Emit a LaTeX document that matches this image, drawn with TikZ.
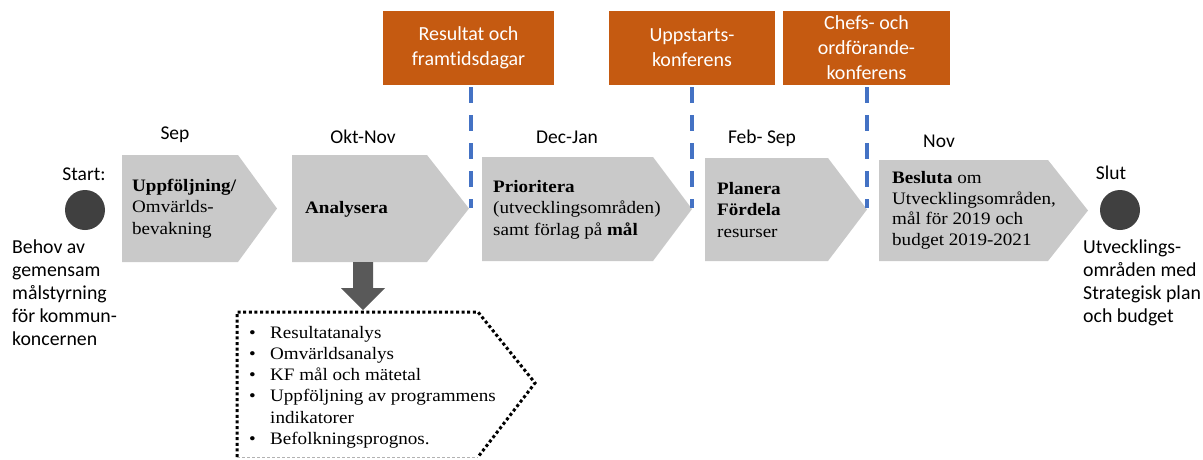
\documentclass[tikz,border=0pt]{standalone}
\usepackage{fontspec}
\newfontfamily\calib{Carlito}[Ligatures=NoCommon]
\newfontfamily\bookf{Liberation Serif}[FakeStretch=1.09]
\definecolor{orangeC}{HTML}{C55A11}
\definecolor{blueC}{HTML}{4472C4}
\definecolor{greyC}{HTML}{C9C9C9}
\definecolor{darkC}{HTML}{404040}
\definecolor{arrowC}{HTML}{595959}
\tikzset{
  evbox/.style={fill=orangeC, text=white, font=\calib\fontsize{20}{25}\selectfont, align=center, inner sep=0pt, minimum height=74pt},
  vline/.style={draw=blueC, line width=3.5pt, dash pattern=on 16pt off 12pt},
  stepfill/.style={fill=greyC},
  stxt/.style={font=\bookf\fontsize{17.5}{21.5}\selectfont, align=left, inner sep=0pt, anchor=west},
  lbl/.style={font=\calib\fontsize{19.5}{23}\selectfont, inner sep=0pt},
  sidetxt/.style={font=\calib\fontsize{19.8}{23}\selectfont, align=left, inner sep=0pt, anchor=west},
  dot/.style={circle, fill=darkC, minimum size=40pt, inner sep=0pt},
  dotbox/.style={draw=black, line width=3pt, dash pattern=on 3pt off 2.6pt},
}
\begin{document}
\begin{tikzpicture}[x=1pt,y=-1pt]
\useasboundingbox (0,0) rectangle (1203,459);

% event boxes
\node[evbox, minimum width=171pt] (e1) at (468.5,48) {Resultat och\\framtidsdagar};
\node[evbox, minimum width=166pt] (e2) at (692,48) {Uppstarts-\\konferens};
\node[evbox, minimum width=167pt] (e3) at (866.5,48) {Chefs- och\\ordförande-\\konferens};

% step shapes
\fill[stepfill] (122,155) -- (238,155) -- (277,208.5) -- (238,262) -- (122,262) -- cycle;
\fill[stepfill] (292,155) -- (427,155) -- (469,208.5) -- (427,262) -- (292,262) -- cycle;
\fill[stepfill] (482,157) -- (653,157) -- (692,209) -- (653,261) -- (482,261) -- cycle;
\fill[stepfill] (705,158) -- (828,158) -- (867,209.5) -- (828,261) -- (705,261) -- cycle;
\fill[stepfill] (879,160) -- (1048,160) -- (1088,210.5) -- (1048,261) -- (879,261) -- cycle;

\coordinate (p1) at (471,208);
\coordinate (p2) at (692,208);
\coordinate (p3) at (867,208);
\draw[vline] (471,87) -- (p1);
\draw[vline] (692,87) -- (p2);
\draw[vline] (867,87) -- (p3);

% step texts
\node[stxt] (s1) at (132,208.5) {\textbf{Uppföljning/}\\Omvärlds-\\bevakning};
\node[stxt] (s2) at (305,209) {\textbf{Analysera}};
\node[stxt] (s3) at (493,209.5) {\textbf{Prioritera}\\(utvecklingsområden)\\samt förlag på \textbf{mål}};
\node[stxt] (s4) at (717,210) {\textbf{Planera}\\\textbf{Fördela}\\resurser};
\node[stxt, font=\bookf\fontsize{17.5}{20.5}\selectfont] (s5) at (892,210.5) {\textbf{Besluta} om\\Utvecklingsområden,\\mål för 2019 och\\budget 2019-2021};

% month labels
\node[lbl] (m1) at (175,135) {Sep};
\node[lbl] (m2) at (363,137) {Okt-Nov};
\node[lbl] (m3) at (567,137) {Dec-Jan};
\node[lbl] (m4) at (762,138) {Feb- Sep};
\node[lbl] (m5) at (939,141) {Nov};

% start / end
\node[lbl] (startl) at (84,174) {Start:};
\node[dot] (start) at (85,210) {};
\node[sidetxt] (behov) at (12,292.5) {Behov av\\gemensam\\målstyrning\\för kommun-\\koncernen};
\node[lbl] (slutl) at (1111,173) {Slut};
\node[dot] (slut) at (1120,210) {};
\node[sidetxt] (utv) at (1083,283) {Utvecklings-\\områden med\\Strategisk plan\\och budget};

% down arrow
\fill[arrowC] (353,262) -- (373,262) -- (373,288) -- (385,288) -- (363,310) -- (341,288) -- (353,288) -- cycle;

% dotted box
\draw[dotbox] (237,457) -- (237,312) -- (478,312) -- (535,383) -- (478,457);
\draw[gray!60, line width=0.8pt, dash pattern=on 3pt off 2pt] (237,457.5) -- (478,457.5);
\node[font=\bookf\fontsize{17.5}{21.2}\selectfont, inner sep=0pt, anchor=west] (list) at (249,387)
{\begin{tabular}{@{}p{21pt}@{}l@{}}
\textbullet & Resultatanalys\\
\textbullet & Omvärldsanalys\\
\textbullet & KF mål och mätetal\\
\textbullet & Uppföljning av programmens\\
 & indikatorer\\
\textbullet & Befolkningsprognos.
\end{tabular}};
\end{tikzpicture}
\end{document}
